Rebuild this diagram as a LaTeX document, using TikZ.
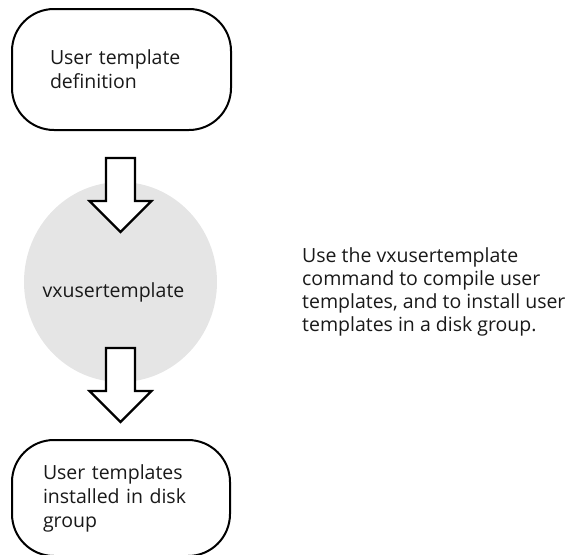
\documentclass[tikz,border=0pt]{standalone}
\usepackage{fontspec}
\setmainfont{Open Sans}
\usetikzlibrary{shapes.geometric}
\begin{document}
\begin{tikzpicture}[x=1pt,y=-1pt,
  txt/.style={font=\fontsize{19.5}{24}\selectfont, inner sep=0pt, text=black!90},
  stagebox/.style={draw=black, line width=2pt, rounded corners=42pt, fill=white,
    inner sep=0pt, align=left, font=\fontsize{19.5}{24}\selectfont, text=black!90},
  blockarrow/.style={draw=black, line width=2.2pt, fill=white, line join=miter}]
  \useasboundingbox (0,0) rectangle (566,555);
  \clip (0,0) rectangle (566,555);

  % first stage: template definition
  \node[stagebox, minimum width=219pt, minimum height=121pt, text width=143pt]
    (def) at (121.5,69.5) {User template\\definition};

  % compiler step
  \node[ellipse, fill=black!10, minimum width=193pt, minimum height=200pt, inner sep=0pt]
    (tool) at (120.5,282) {};
  \node[txt, anchor=base] (toolname) at (113.5,297) {vxusertemplate};

  % final stage: installed templates
  \node[stagebox, minimum width=218pt, minimum height=116pt, text width=156pt]
    (inst) at (121,498) {User templates\\installed in disk\\group};

  % block arrows between the stages
  \coordinate (a1) at (120.5,158);
  \coordinate (a2) at (120.5,348);
  \foreach \c in {a1,a2}{
    \draw[blockarrow] (\c) ++(-14.5,0) -- ++(29,0) -- ++(0,43) -- ++(16.5,0)
      -- ++(-31,31) -- ++(-31,-31) -- ++(16.5,0) -- cycle;
  }

  % explanatory note
  \node[txt, anchor=north west, align=left, font=\fontsize{19.5}{23}\selectfont]
    (note) at (302,247) {Use the vxusertemplate\\command to compile user\\templates, and to install user\\templates in a disk group.};
\end{tikzpicture}
\end{document}
